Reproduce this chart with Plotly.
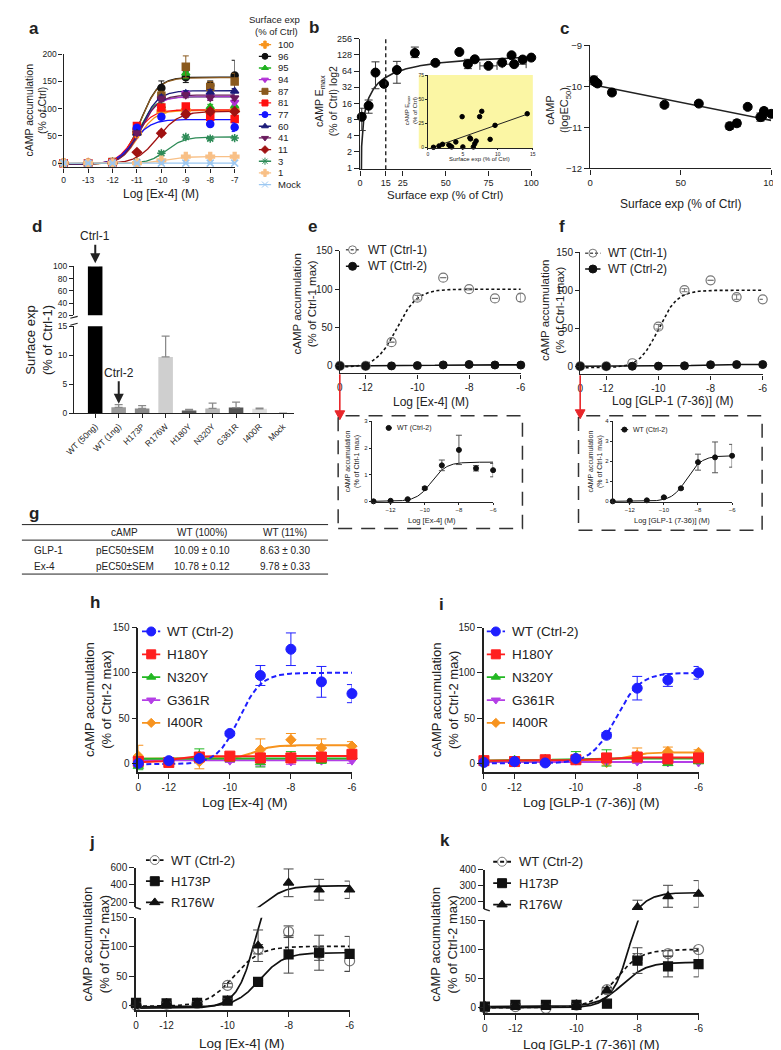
import numpy as np
import plotly.graph_objects as go

W, H = 781, 1050
FONT = "Liberation Sans, Arial, sans-serif"
INK = "#222222"

# ======================= DATA =======================
# ---- shared dose axes (log M); the "0" dose is drawn at the left end ----
A_DOSE = [-14, -13, -12, -11, -10, -9, -8, -7]
A_DOSE_TEXT = ['0', '-13', '-12', '-11', '-10', '-9', '-8', '-7']
DOSE = [-13, -12, -11, -10, -9, -8, -7, -6]
DOSE_TICKS = [-13, -12, -10, -8, -6]
DOSE_TICK_TEXT = ['0', '-12', '-10', '-8', '-6']
INSET_TICKS = [-12, -10, -8, -6]

# ---- panel a ----
A_NAMES = ['100', '96', '95', '94', '87', '81', '77', '60', '41', '11', '3', '1', 'Mock']
a_100 = [0, 0, 1, 55, 95, 97, 95, 97]
a_96 = [0, 0, 1, 60, 138, 158, 143, 161]
a_95 = [0, 0, 2, 65, 105, 165, 103, 105]
a_94 = [0, 0, 1, 60, 120, 128, 122, 112]
a_87 = [0, 0, 2, 58, 124, 177, 140, 150]
a_81 = [0, 0, 1, 68, 102, 104, 85, 81]
a_77 = [0, 0, 1, 65, 85, 90, 72, 66]
a_60 = [0, 0, 0, 55, 120, 128, 130, 132]
a_41 = [0, 0, 0, 55, 118, 125, 120, 120]
a_11 = [0, 0, 0, 20, 55, 90, 95, 95]
a_3 = [0, 0, 0, 2, 18, 48, 45, 46]
a_1 = [0, 0, 0, 0, 5, 12, 12, 12]
a_mock = [0, 0, 0, 0, 0, 0, 0, 0]
A_VALUES = [a_100, a_96, a_95, a_94, a_87, a_81, a_77, a_60, a_41, a_11, a_3, a_1, a_mock]
a_err_100 = [0, 0, 0, 3, 3, 3, 3, 3]
a_err_96 = [0, 0, 0, 5, 13, 10, 8, 28]
a_err_95 = [0, 0, 0, 4, 5, 10, 5, 8]
a_err_94 = [0, 0, 0, 4, 5, 5, 5, 5]
a_err_87 = [0, 0, 0, 4, 8, 20, 10, 15]
a_err_81 = [0, 0, 0, 4, 5, 5, 5, 5]
a_err_77 = [0, 0, 0, 4, 5, 3, 5, 8]
a_err_60 = [0, 0, 0, 4, 5, 5, 5, 5]
a_err_41 = [0, 0, 0, 4, 5, 5, 5, 5]
a_err_11 = [0, 0, 0, 2, 4, 5, 5, 5]
a_err_3 = [0, 0, 0, 1, 3, 3, 3, 3]
a_err_1 = [0, 0, 0, 1, 2, 2, 2, 2]
a_err_mock = [0, 0, 0, 0, 0, 0, 0, 0]
A_ERRORS = [a_err_100, a_err_96, a_err_95, a_err_94, a_err_87, a_err_81, a_err_77,
            a_err_60, a_err_41, a_err_11, a_err_3, a_err_1, a_err_mock]
A_BOTTOM = [-2, -2, -2, -2, -2, -2, -2, -2, -2, -1, -1, 0, 0]
A_TOP = [97, 158, 122, 122, 157, 98, 80, 133, 125, 95, 48, 12, 0]
A_LOGEC50 = [-10.95, -10.85, -10.95, -10.9, -10.85, -11.1, -11.15, -10.85, -10.85, -10.15, -9.8, -9.8, -10]
A_HILL = [1.2, 1.2, 1.2, 1.2, 1.2, 1.2, 1.2, 1.2, 1.2, 1.0, 1.2, 1.2, 1.0]
A_COLORS = ['#f7941d', '#111111', '#1fb21f', '#b12fd6', '#8b5a1e', '#ff1010', '#1414ff',
            '#1c1c7a', '#6b1c5e', '#a01212', '#2e8b57', '#f8c087', '#9cc8f2']
A_SYMBOLS = ['cross', 'circle', 'triangle-up', 'triangle-down', 'square', 'square', 'circle',
             'triangle-up', 'triangle-down', 'diamond', 'asterisk-open', 'cross', 'x-thin-open']

# ---- panel b ----
B_X = [1, 5, 9, 14, 21.5, 32, 44, 58, 63, 67, 75, 83, 88.5, 90, 95, 100]
B_Y = [9, 14.5, 60, 37, 67, 139, 91, 145, 86, 106, 80, 92, 126, 86, 105, 114]
B_ERR_UP = [4, 4, 35, 3, 30, 40, 8, 6, 20, 8, 6, 8, 6, 6, 6, 6]
B_ERR_DOWN = [4, 4, 30, 3, 29, 25, 8, 6, 15, 8, 6, 8, 6, 6, 6, 6]
B_ERR_X = [0, 0, 0, 0, 0, 0, 0, 0, 0, 0, 5, 0, 0, 7, 0, 0]
B_FIT = [150, 30, 0.4]          # Emax, K, x-offset of hyperbolic fit
B_THRESHOLD = 15
B_IN_X = [0.8, 1.6, 2.1, 3.0, 3.2, 3.4, 4.0, 4.9, 5.0, 6.0, 6.1, 6.5, 6.7, 6.9, 7.4, 7.7, 8.9, 9.6, 14.2]
B_IN_Y = [0.3, 1.7, 3.4, 2.7, 1.7, 0.7, 5.8, 32, 0.7, 10, 9, 0.7, 4, 6.8, 32, 37.5, 8.5, 23, 35]
B_IN_FIT = [2.55, -1.7, 0.8, 14.3]  # slope, intercept, x from, x to

# ---- panel c ----
C_X = [2, 3, 4, 12, 41, 60, 77, 81, 87, 94, 95, 96, 100]
C_Y = [-9.85, -9.9, -9.93, -10.15, -10.45, -10.42, -10.97, -10.9, -10.5, -10.75, -10.73, -10.6, -10.67]
C_ERR = [0.1, 0.07, 0.05, 0.06, 0.06, 0.06, 0.08, 0.08, 0.06, 0.1, 0.05, 0.07, 0.05]
C_FIT = [-9.95, -0.0088]   # intercept, slope

# ---- panel d ----
D_CATS = ['WT (50ng)', 'WT (1ng)', 'H173P', 'R176W', 'H180Y', 'N320Y', 'G361R', 'I400R', 'Mock']
D_VALUES = [100, 1.0, 0.8, 9.7, 0.45, 0.8, 0.95, 0.75, 0.0]
D_ERR = [0, 0.45, 0.5, 3.6, 0.2, 0.9, 0.95, 0.1, 0.0]
D_ERR_DOWN = [0, 0, 0, 0, 0, 0, 0, 0, 0]
D_COLORS = ['#000000', '#9a9a9a', '#888888', '#cfcfcf', '#5a5a5a', '#b4b4b4', '#555555', '#dedede', '#d8d8d8']

# ---- panel e ----
E_CTRL1 = [0, 0, 31, 89, 115, 100, 88, 89]
E_CTRL1_ERR = [0, 0, 0, 3, 0, 1, 0, 5]
E_CTRL2 = [0, 0.02, 0.08, 0.49, 1.35, 1.93, 1.24, 1.17]
E_CTRL2_ERR = [0, 0, 0, 0.05, 0.2, 0.55, 0.1, 0.25]
E_FIT_CTRL1 = [-2, 100, -10.8, 1.1]
E_FIT_CTRL2 = [0, 1.47, -9.6, 1.0]

# ---- panel f ----
F_CTRL1 = [0, 0, 4, 52, 100, 113, 91, 88]
F_CTRL1_ERR = [0, 0, 0, 3, 2, 0, 3, 0]
F_CTRL2 = [0, 0.03, 0.05, 0.2, 0.65, 1.96, 2.2, 2.28]
F_CTRL2_ERR = [0, 0, 0, 0.03, 0.05, 0.4, 0.77, 0.57]
F_FIT_CTRL1 = [-2, 100, -10.0, 1.2]
F_FIT_CTRL2 = [0, 2.28, -8.65, 1.0]
EF_NAMES = ['WT (Ctrl-1)', 'WT (Ctrl-2)']

# ---- table g ----
G_HEADER = ['cAMP', 'WT (100%)', 'WT (11%)']
G_LIGANDS = ['GLP-1', 'Ex-4']
G_PARAM = ['pEC50±SEM', 'pEC50±SEM']
G_WT100 = ['10.09 ± 0.10', '10.78 ± 0.12']
G_WT11 = ['8.63 ± 0.30', '9.78 ± 0.33']

# ---- panels h, i ----
HI_NAMES = ['WT (Ctrl-2)', 'H180Y', 'N320Y', 'G361R', 'I400R']
HI_COLORS = ['#1f1fff', '#ff1f1f', '#22b822', '#b43ee6', '#f7931e']
HI_SYMBOLS = ['circle', 'square', 'triangle-up', 'triangle-down', 'diamond']
HI_SIZES = [10, 10, 9, 9, 8]
HI_DASHES = ['5px,3px', 'solid', 'solid', 'solid', 'solid']
h_wt = [0, 3, 5.4, 33, 97, 126, 90, 77]
h_h180y = [2, 1, 7, 8, 6, 6, 7, 10]
h_n320y = [-3, 3, 9, 5, 1, 8, 3, 8]
h_g361r = [4, 3, 4, 3, 3, 2, 3, 3]
h_i400r = [8, 2, 2, 6, 15, 26, 17, 19]
h_wt_err = [1, 1, 1, 2, 11, 18, 17, 10]
h_h180y_err = [3, 2, 3, 3, 5, 5, 4, 4]
h_n320y_err = [4, 3, 7, 3, 5, 5, 3, 3]
h_g361r_err = [2, 2, 2, 2, 6, 3, 2, 3]
h_i400r_err = [12, 2, 8, 3, 12, 7, 10, 5]
H_VALUES = [h_wt, h_h180y, h_n320y, h_g361r, h_i400r]
H_ERRORS = [h_wt_err, h_h180y_err, h_n320y_err, h_g361r_err, h_i400r_err]
H_FITS = [[-1, 100, -9.7, 1.2], [1, 8, -11.8, 1.5], [5, 5.5, -10, 1], [3.5, 3.5, -10, 1], [5, 20, -9.2, 1.5]]
i_wt = [1, 2, 0.5, 5.4, 31, 83, 92, 100]
i_h180y = [3, 2, 4, 4, 6, 7, 5, 6]
i_n320y = [3, 4, 5, 7, 6, 5, 0, 2]
i_g361r = [1, 2, 2, 3, 2, 2, 1, 1]
i_i400r = [3, 2, 3, 5, 1, 9, 13, 12]
i_wt_err = [1, 1, 1, 2, 3, 13, 7, 7]
i_h180y_err = [2, 2, 2, 3, 3, 4, 3, 3]
i_n320y_err = [2, 3, 3, 6, 9, 3, 2, 2]
i_g361r_err = [1, 1, 1, 1, 1, 2, 1, 1]
i_i400r_err = [2, 5, 2, 3, 3, 8, 5, 3]
I_VALUES = [i_wt, i_h180y, i_n320y, i_g361r, i_i400r]
I_ERRORS = [i_wt_err, i_h180y_err, i_n320y_err, i_g361r_err, i_i400r_err]
I_FITS = [[0, 100, -8.7, 1.1], [3, 6.5, -9.5, 1], [3, 5.5, -10.5, 1], [1.5, 1.5, -10, 1], [3, 12, -8.3, 1.5]]

# ---- panels j, k ----
JK_NAMES = ['WT (Ctrl-2)', 'H173P', 'R176W']
JK_SYMBOLS = ['circle-open', 'square', 'triangle-up']
JK_MARKER_COLORS = ['#777777', '#111111', '#111111']
JK_DASHES = ['4px,3px', 'solid', 'solid']
j_wt = [0, 2, 3, 34, 96, 126, 89, 76]
j_h173p = [4, 3, 4, 8, 40, 87, 90, 88]
j_r176w = [3, 3, 4, 8, 102, 425, 345, 345]
j_wt_err = [2, 1, 1, 3, 8, 10, 12, 18]
j_h173p_err = [3, 2, 2, 2, 2, 32, 30, 30]
j_r176w_err = [2, 2, 2, 3, 27, 160, 120, 100]
J_VALUES = [j_wt, j_h173p, j_r176w]
J_ERRORS = [j_wt_err, j_h173p_err, j_r176w_err]
J_FITS = [[-2, 101, -9.8, 1.0], [-3, 90, -8.95, 1.1], [-5, 390, -8.8, 1.2]]
k_wt = [0, 2, -1, 4.5, 31, 85, 93, 100]
k_h173p = [2, 5, 5, 5, 7, 81, 71, 75]
k_r176w = [3, 4, 4, 5, 30, 162, 232, 247]
k_wt_err = [1, 1, 1, 2, 3, 8, 5, 2]
k_h173p_err = [2, 2, 2, 2, 3, 22, 18, 22]
k_r176w_err = [2, 2, 2, 2, 5, 45, 70, 85]
K_VALUES = [k_wt, k_h173p, k_r176w]
K_ERRORS = [k_wt_err, k_h173p_err, k_r176w_err]
K_FITS = [[0, 100, -8.7, 1.1], [2, 78, -8.5, 1.1], [0, 255, -8.15, 1.3]]
BREAK = 150

# ======================= HELPERS =======================
fig = go.Figure()
layout = {}
ann = []
shp = []


def X(px):
    return px / W


def Y(py):
    return 1 - py / H


nax = [0]


def axes(x0, x1, ytop, ybot, xr, yr, xkw=None, ykw=None, fs=9, tl=4, lw=1.4):
    nax[0] += 1
    s = '' if nax[0] == 1 else str(nax[0])
    base = dict(showline=True, linecolor=INK, linewidth=lw, ticks='outside', ticklen=tl,
                tickwidth=max(0.8, lw - 0.2), tickcolor=INK, showgrid=False, zeroline=False,
                fixedrange=True, tickfont=dict(family=FONT, size=fs, color=INK))
    xa = dict(base, domain=[X(x0), X(x1)], range=xr, anchor='y' + s)
    ya = dict(base, domain=[Y(ybot), Y(ytop)], range=yr, anchor='x' + s)
    if xkw:
        xa.update(xkw)
    if ykw:
        ya.update(ykw)
    layout['xaxis' + s] = xa
    layout['yaxis' + s] = ya
    return ('x' + s, 'y' + s)


def txt(px, py, s, size=11, xa='center', ya='middle', angle=0, bold=False, color=INK):
    if bold:
        s = '<b>' + s + '</b>'
    ann.append(dict(x=X(px), y=Y(py), xref='paper', yref='paper', text=s, showarrow=False,
                    xanchor=xa, yanchor=ya, textangle=angle,
                    font=dict(family=FONT, size=size, color=color)))


def hill(x, bottom, top, logec50, slope):
    x = np.asarray(x, dtype=float)
    return bottom + (top - bottom) / (1.0 + 10.0 ** ((logec50 - x) * slope))


def fit(ax, xlo, xhi, params, color, dash='solid', width=1.5):
    xs = np.linspace(xlo, xhi, 300)
    fig.add_trace(go.Scatter(x=xs, y=hill(xs, *params), mode='lines', xaxis=ax[0], yaxis=ax[1],
                             line=dict(color=color, width=width, dash=dash), hoverinfo='skip'))


def points(ax, x, y, color, symbol='circle', size=7, err=None, errminus=None, errx=None,
           lw=1, errcolor=None, ew=3):
    kw = {}
    if err is not None:
        kw['error_y'] = dict(type='data', array=err,
                             arrayminus=(errminus if errminus is not None else err),
                             symmetric=False, color=errcolor or color, thickness=1, width=ew)
    if errx is not None:
        kw['error_x'] = dict(type='data', array=errx, color=errcolor or color, thickness=1, width=ew)
    fig.add_trace(go.Scatter(x=x, y=y, mode='markers', xaxis=ax[0], yaxis=ax[1], cliponaxis=False,
                             marker=dict(symbol=symbol, size=size, color=color,
                                         line=dict(color=color, width=lw)),
                             hoverinfo='skip', **kw))


def legend(xk0, xk1, y0, dy, names, colors, symbols, sizes, dashes, fs, gap=5, lw=1.5,
           line_colors=None):
    n = len(names)
    ax = axes(xk0, xk1, y0 - dy / 2, y0 + (n - 0.5) * dy, [0, 1], [n - 0.5, -0.5],
              xkw=dict(visible=False), ykw=dict(visible=False))
    for i in range(n):
        lc = line_colors[i] if line_colors else colors[i]
        fig.add_trace(go.Scatter(x=[0, 1], y=[i, i], mode='lines', xaxis=ax[0], yaxis=ax[1],
                                 line=dict(color=lc, width=lw, dash=dashes[i]), hoverinfo='skip'))
        fig.add_trace(go.Scatter(x=[0.5], y=[i], mode='markers', xaxis=ax[0], yaxis=ax[1],
                                 cliponaxis=False, hoverinfo='skip',
                                 marker=dict(symbol=symbols[i], size=sizes[i], color=colors[i],
                                             line=dict(color=colors[i], width=1))))
        txt(xk1 + gap, y0 + i * dy, names[i], fs, xa='left')


def text_arrow(px, py, length, text, fs=12):
    ann.append(dict(x=X(px), y=Y(py), xref='paper', yref='paper', ax=0, ay=-length,
                    axref='pixel', ayref='pixel', text=text, showarrow=True, arrowhead=2,
                    arrowsize=1, arrowwidth=2, arrowcolor=INK,
                    font=dict(family=FONT, size=fs, color=INK)))


def red_arrow(px, ytop, ytip, color='#e8262a'):
    shp.append(dict(type='line', xref='paper', yref='paper', x0=X(px), x1=X(px), y0=Y(ytop), y1=Y(ytip - 7),
                    line=dict(color=color, width=1.6)))
    path = 'M {} {} L {} {} L {} {} Z'.format(X(px - 5), Y(ytip - 9), X(px + 5), Y(ytip - 9), X(px), Y(ytip))
    shp.append(dict(type='path', xref='paper', yref='paper', path=path, fillcolor=color,
                    line=dict(color=color, width=1)))


def hline(x0, x1, y, color=INK, width=1):
    shp.append(dict(type='line', xref='paper', yref='paper', x0=X(x0), x1=X(x1), y0=Y(y), y1=Y(y),
                    line=dict(color=color, width=width)))


# ======================= PANEL a =======================
axA = axes(47.7, 222.5, 40.7, 155, [-14, -7], [-7.8, 200],
           xkw=dict(tickvals=A_DOSE, ticktext=A_DOSE_TEXT), ykw=dict(tickvals=[0, 50, 100, 150, 200]),
           fs=8.5)
for i in range(len(A_NAMES)):
    fit(axA, A_DOSE[0], A_DOSE[-1], (A_BOTTOM[i], A_TOP[i], A_LOGEC50[i], A_HILL[i]), A_COLORS[i], width=1.3)
for i in range(len(A_NAMES)):
    points(axA, A_DOSE, A_VALUES[i], A_COLORS[i], A_SYMBOLS[i], 7, err=A_ERRORS[i], lw=1.5)
txt(17, 15, 'a', 17, bold=True)
txt(19, 97, 'cAMP accumulation<br>(% of Ctrl)', 10.5, angle=-90)
txt(147, 182, 'Log [Ex-4] (M)', 12)
txt(263, 6, 'Surface exp', 9.5)
txt(265, 18, '(% of Ctrl)', 9.5)
legend(247, 260, 31, 11.78, A_NAMES, A_COLORS, A_SYMBOLS, [6] * len(A_NAMES),
       ['solid'] * len(A_NAMES), 9.5, gap=5, lw=1.3)

# ======================= PANEL b =======================
axB = axes(350.7, 525.7, 25, 157, [0, 100], [-0.024, np.log10(256)],
           xkw=dict(tickvals=[0, 15, 25, 50, 75, 100]),
           ykw=dict(type='log', tickvals=[1, 2, 4, 8, 16, 32, 64, 128, 256],
                    ticktext=['1', '2', '4', '8', '16', '32', '64', '128', '256']), fs=9, tl=5)
bx = np.geomspace(B_FIT[2] + 0.01, 100, 600)
fig.add_trace(go.Scatter(x=bx, y=B_FIT[0] * (bx - B_FIT[2]) / (B_FIT[1] + bx - B_FIT[2]), mode='lines',
                         xaxis=axB[0], yaxis=axB[1], line=dict(color=INK, width=1.6), hoverinfo='skip'))
points(axB, B_X, B_Y, '#000000', 'circle', 9, err=B_ERR_UP, errminus=B_ERR_DOWN, errx=B_ERR_X,
       errcolor='#333333', ew=4)
shp.append(dict(type='line', xref=axB[0], yref=axB[1] + ' domain', x0=B_THRESHOLD, x1=B_THRESHOLD,
                y0=0, y1=1, line=dict(color=INK, width=1.4, dash='4px,3px')))
txt(304, 14, 'b', 17, bold=True)
txt(316, 88, 'cAMP E<sub>max</sub><br>(% of Ctrl) log2', 10.5, angle=-90)
txt(438, 183, 'Surface exp (% of Ctrl)', 11.5)
# inset
shp.append(dict(type='rect', xref='paper', yref='paper', x0=X(410.7), x1=X(527.3), y0=Y(136), y1=Y(61.7),
                fillcolor='#fbf6a4', line=dict(width=0), layer='below'))
axBi = axes(420, 527.3, 61.7, 135, [0, 15], [0, 75], xkw=dict(tickvals=[0, 5, 10, 15]),
            ykw=dict(tickvals=[0, 25, 50, 75]), fs=5, tl=2, lw=0.8)
bix = np.linspace(B_IN_FIT[2], B_IN_FIT[3], 20)
fig.add_trace(go.Scatter(x=bix, y=B_IN_FIT[0] * bix + B_IN_FIT[1], mode='lines', xaxis=axBi[0], yaxis=axBi[1],
                         line=dict(color=INK, width=1), hoverinfo='skip'))
points(axBi, B_IN_X, B_IN_Y, '#000000', 'circle', 4.5)
txt(403, 97, 'cAMP E<sub>max</sub><br>(% of Ctrl)', 6, angle=-90)
txt(473, 147, 'Surface exp (% of Ctrl)', 6)

# ======================= PANEL c =======================
axC = axes(586, 771, 31.7, 156, [0, 100], [-12, -9], xkw=dict(tickvals=[0, 50, 100]),
           ykw=dict(tickvals=[-12, -11, -10, -9]), fs=9.5, tl=5)
cx = np.linspace(0, 100, 10)
fig.add_trace(go.Scatter(x=cx, y=C_FIT[0] + C_FIT[1] * cx, mode='lines', xaxis=axC[0], yaxis=axC[1],
                         line=dict(color=INK, width=1.6), hoverinfo='skip'))
points(axC, C_X, C_Y, '#000000', 'circle', 9, err=C_ERR, errcolor='#333333', ew=4)
txt(560, 15, 'c', 17, bold=True)
txt(554, 97, 'cAMP<br>(logEC<sub>50</sub>)', 11, angle=-90)
txt(678, 192, 'Surface exp (% of Ctrl)', 12)

# ======================= PANEL d =======================
D_IDX = list(range(len(D_CATS)))
axDl = axes(58.3, 283, 315.5, 403.3, [-0.9, 8.46], [0, 15],
            xkw=dict(tickvals=D_IDX, ticktext=D_CATS, tickangle=-45), ykw=dict(tickvals=[0, 5, 10, 15]), fs=8.5)
axDu = axes(58.3, 283, 255, 304.5, [-0.9, 8.46], [20, 100], xkw=dict(visible=False),
            ykw=dict(tickvals=[20, 40, 60, 80, 100]), fs=8.5)
for ax in (axDl, axDu):
    fig.add_trace(go.Bar(x=D_IDX, y=D_VALUES, width=0.62, xaxis=ax[0], yaxis=ax[1],
                         marker=dict(color=D_COLORS, line=dict(width=0)), hoverinfo='skip',
                         error_y=dict(type='data', array=D_ERR, arrayminus=D_ERR_DOWN, symmetric=False,
                                      color='#8a8a8a', thickness=1.3, width=4)))
for yy in (306.5, 313.5):
    shp.append(dict(type='line', xref='paper', yref='paper', x0=X(54.5), x1=X(62), y0=Y(yy + 1), y1=Y(yy - 1),
                    line=dict(color=INK, width=1.2)))
txt(20, 215, 'd', 17, bold=True)
txt(22, 330, 'Surface exp<br>(% of Ctrl-1)', 13, angle=-90)
text_arrow(80, 252, 27, 'Ctrl-1', 12)
text_arrow(104, 394, 31, 'Ctrl-2', 12)

# ======================= PANEL e =======================
axE = axes(330, 515, 239.3, 363.3, [-13, -6], [-9.8, 150],
           xkw=dict(tickvals=DOSE_TICKS, ticktext=DOSE_TICK_TEXT), ykw=dict(tickvals=[0, 50, 100, 150]), fs=10)
fit(axE, -13, -6, E_FIT_CTRL1, '#111111', dash='3px,2.5px', width=1.6)
fit(axE, -13, -6, E_FIT_CTRL2, '#111111', width=1.6)
points(axE, DOSE, E_CTRL1, '#777777', 'circle-open', 9, err=E_CTRL1_ERR, lw=1.2)
points(axE, DOSE, E_CTRL2, '#111111', 'circle', 8)
legend(336, 350, 238.3, 16.7, EF_NAMES, ['#777777', '#111111'], ['circle-open', 'circle'], [8, 8],
       ['3px,2px', 'solid'], 12, gap=6.5, line_colors=['#555555', '#111111'])
txt(302, 215, 'e', 17, bold=True)
txt(294, 293, 'cAMP accumulation<br>(% of Ctrl-1 max)', 11.5, angle=-90)
txt(423, 392, 'Log [Ex-4] (M)', 12)
red_arrow(330, 364, 410)
shp.append(dict(type='rect', xref='paper', yref='paper', x0=X(328.3), x1=X(516.7), y0=Y(520), y1=Y(406),
                line=dict(color='#333333', width=1.5, dash='14px,9px')))
axEi = axes(362.7, 486.7, 411.7, 493.3, [-13.1, -6], [-0.03, 3], xkw=dict(tickvals=INSET_TICKS),
            ykw=dict(tickvals=[0, 1, 2, 3]), fs=6, tl=2, lw=0.9)
fit(axEi, -13, -6, E_FIT_CTRL2, '#111111', width=1)
points(axEi, DOSE, E_CTRL2, '#111111', 'circle', 5, err=E_CTRL2_ERR, errcolor='#555555', ew=3)
legend(376.7, 383.3, 418.3, 8, [EF_NAMES[1]], ['#111111'], ['circle'], [5], ['solid'], 7, gap=3, lw=1)
txt(342.5, 452, 'cAMP accumulation<br>(% of Ctrl-1 max)', 7, angle=-90)
txt(424, 511.7, 'Log [Ex-4] (M)', 7.5)

# ======================= PANEL f =======================
axF = axes(575.7, 762.3, 240.7, 364.3, [-13, -6], [-10.8, 150],
           xkw=dict(tickvals=DOSE_TICKS, ticktext=DOSE_TICK_TEXT), ykw=dict(tickvals=[0, 50, 100, 150]), fs=10)
fit(axF, -13, -6, F_FIT_CTRL1, '#111111', dash='3px,2.5px', width=1.6)
fit(axF, -13, -6, F_FIT_CTRL2, '#111111', width=1.6)
points(axF, DOSE, F_CTRL1, '#777777', 'circle-open', 9, err=F_CTRL1_ERR, lw=1.2)
points(axF, DOSE, F_CTRL2, '#111111', 'circle', 8)
legend(580.7, 596.7, 241.7, 16, EF_NAMES, ['#777777', '#111111'], ['circle-open', 'circle'], [8, 8],
       ['3px,2px', 'solid'], 12, gap=5, line_colors=['#555555', '#111111'])
txt(557, 215, 'f', 17, bold=True)
txt(548, 300, 'cAMP accumulation<br>(% of Ctrl-1 max)', 11.5, angle=-90)
txt(670, 391, 'Log [GLP-1 (7-36)] (M)', 12)
red_arrow(575.7, 365, 409)
shp.append(dict(type='rect', xref='paper', yref='paper', x0=X(574), x1=X(761.7), y0=Y(521.7), y1=Y(406),
                line=dict(color='#333333', width=1.5, dash='14px,9px')))
axFi = axes(609, 731, 411.7, 493.3, [-13, -6], [-0.04, 4], xkw=dict(tickvals=INSET_TICKS),
            ykw=dict(tickvals=[0, 1, 2, 3, 4]), fs=6, tl=2, lw=0.9)
fit(axFi, -13, -6, F_FIT_CTRL2, '#111111', width=1)
points(axFi, DOSE, F_CTRL2, '#111111', 'circle', 5, err=F_CTRL2_ERR, errcolor='#555555', ew=3)
legend(617, 625, 420, 8, [EF_NAMES[1]], ['#111111'], ['circle'], [5], ['solid'], 7, gap=3, lw=1)
txt(591, 452, 'cAMP accumulation<br>(% of Ctrl-1 max)', 7, angle=-90)
txt(670, 511.7, 'Log [GLP-1 (7-36)] (M)', 7.5)

# ======================= TABLE g =======================
txt(17, 505, 'g', 17, bold=True)
for yy in (516, 531.7, 566):
    hline(5, 318, yy, INK, 1)
G_COL_X = [110, 189, 274]
for j in range(3):
    txt(G_COL_X[j], 524, G_HEADER[j], 10)
for r in range(len(G_LIGANDS)):
    yy = 541.7 + r * 16.6
    txt(15, yy, G_LIGANDS[r], 10, xa='left')
    txt(110, yy, G_PARAM[r], 10)
    txt(189, yy, G_WT100[r], 10)
    txt(274, yy, G_WT11[r], 10)


# ======================= PANELS h, i =======================
def dose_panel(x0, x1, ytop, ybot, yr):
    return axes(x0, x1, ytop, ybot, [-13, -6], yr,
                xkw=dict(tickvals=DOSE_TICKS, ticktext=DOSE_TICK_TEXT),
                ykw=dict(tickvals=[0, 50, 100, 150]), fs=10, tl=5, lw=1.6)


for (x0, x1, vals, errs, fits, lx0, lx1) in [
        (124, 342.4, H_VALUES, H_ERRORS, H_FITS, 127.7, 146.7),
        (477.3, 696.7, I_VALUES, I_ERRORS, I_FITS, 480, 499)]:
    ax = dose_panel(x0, x1, 620, 766, [-9.5, 150])
    for s in reversed(range(len(HI_NAMES))):
        fit(ax, -13, -6, fits[s], HI_COLORS[s], dash=HI_DASHES[s], width=2)
    for s in reversed(range(len(HI_NAMES))):
        points(ax, DOSE, vals[s], HI_COLORS[s], HI_SYMBOLS[s], HI_SIZES[s], err=errs[s], ew=5)
    legend(lx0, lx1, 624, 23.1, HI_NAMES, HI_COLORS, HI_SYMBOLS, [9, 9, 8, 8, 7], HI_DASHES, 13.5, gap=5, lw=1.8)

txt(80, 595, 'h', 17, bold=True)
txt(83, 693, 'cAMP accumulation<br>(% of Ctrl-2 max)', 13, angle=-90)
txt(233, 797, 'Log [Ex-4] (M)', 13.5)
txt(434, 597, 'i', 17, bold=True)
txt(437, 693, 'cAMP accumulation<br>(% of Ctrl-2 max)', 13, angle=-90)
txt(587, 797, 'Log [GLP-1 (7-36)] (M)', 13.5)


# ======================= PANELS j, k =======================
def broken_panel(x0, x1, up_top, up_bot, up_range, up_ticks, lo_top, lo_bot, lo_range,
                 vals, errs, fits):
    lo = dose_panel(x0, x1, lo_top, lo_bot, lo_range)
    hi = axes(x0, x1, up_top, up_bot, [-13, -6], up_range, xkw=dict(visible=False),
              ykw=dict(tickvals=up_ticks), fs=10, tl=5, lw=1.6)
    for s in range(len(JK_NAMES)):
        for ax in (lo, hi):
            fit(ax, -13, -6, fits[s], '#111111', dash=JK_DASHES[s], width=1.7)
    for s in range(len(JK_NAMES)):
        v, e = vals[s], errs[s]
        low_idx = [i for i in range(len(v)) if v[i] <= BREAK]
        high_idx = [i for i in range(len(v)) if v[i] > BREAK]
        for ax, idx in ((lo, low_idx), (hi, high_idx)):
            if idx:
                points(ax, [DOSE[i] for i in idx], [v[i] for i in idx], JK_MARKER_COLORS[s], JK_SYMBOLS[s],
                       9 if s else 10, err=[e[i] for i in idx], errcolor='#444444', ew=5, lw=1.2)
    shp.append(dict(type='line', xref='paper', yref='paper', x0=X(x0 - 1), x1=X(x0 + 5),
                    y0=Y(up_bot), y1=Y(up_bot + 2), line=dict(color=INK, width=1.4)))


broken_panel(121.7, 340, 862.7, 902.7, [143, 600], [200, 400, 600], 913.3, 1006.7, [-8.5, 150],
             J_VALUES, J_ERRORS, J_FITS)
legend(131.7, 150, 855, 21.4, JK_NAMES, JK_MARKER_COLORS, JK_SYMBOLS, [9, 9, 9], JK_DASHES, 13,
       gap=5, lw=1.8, line_colors=['#111111', '#111111', '#111111'])
txt(77, 837, 'j', 17, bold=True)
txt(81, 940, 'cAMP accumulation<br>(% of Ctrl-2 max)', 13, angle=-90)
txt(230, 1040, 'Log [Ex-4] (M)', 13.5)

broken_panel(478.3, 696.7, 865, 904.3, [152, 400], [200, 300, 400], 916, 1010, [-9.7, 150],
             K_VALUES, K_ERRORS, K_FITS)
legend(486.7, 505, 856.7, 21.7, JK_NAMES, JK_MARKER_COLORS, JK_SYMBOLS, [9, 9, 9], JK_DASHES, 13,
       gap=6, lw=1.8, line_colors=['#111111', '#111111', '#111111'])
txt(438, 835, 'k', 17, bold=True)
txt(437, 940, 'cAMP accumulation<br>(% of Ctrl-2 max)', 13, angle=-90)
txt(587, 1041, 'Log [GLP-1 (7-36)] (M)', 13.5)

# ======================= LAYOUT =======================
layout.update(dict(width=W, height=H, margin=dict(l=0, r=0, t=0, b=0), paper_bgcolor='white',
                   plot_bgcolor='rgba(0,0,0,0)', showlegend=False, annotations=ann, shapes=shp,
                   font=dict(family=FONT, color=INK), barmode='overlay'))
fig.update_layout(**layout)
fig.write_html("out.html")
